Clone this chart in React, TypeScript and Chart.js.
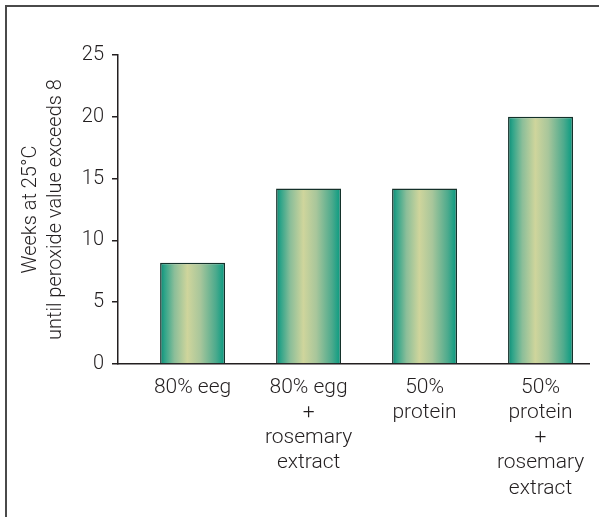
import React, { useEffect, useRef } from "react";
import { Chart, registerables } from "chart.js";

Chart.register(...registerables);

// Sample groups (x-axis labels, one line per array entry)
const categories: string[][] = [
  ["80% eeg"],
  ["80% egg", "+", "rosemary", "extract"],
  ["50%", "protein"],
  ["50%", "protein", "+", "rosemary", "extract"],
];

// Weeks at 25°C until the peroxide value exceeds 8
const weeks: number[] = [8.2, 14.2, 14.2, 20.0];

const yTicks: number[] = [0, 5, 10, 15, 20, 25];
const yTitle: string[] = ["Weeks at 25°C", "until peroxide value exceeds 8"];

const FONT = "Roboto, 'Liberation Sans', Arial, sans-serif";
const INK = "#231f20";

// Cylinder-like horizontal shading for each bar
const barShading = {
  id: "barShading",
  beforeDatasetsDraw(chart: Chart) {
    const ctx = chart.ctx;
    const meta = chart.getDatasetMeta(0);
    meta.data.forEach((bar: any) => {
      const { x, width } = bar.getProps(["x", "width"], true);
      const g = ctx.createLinearGradient(x - width / 2, 0, x + width / 2, 0);
      g.addColorStop(0, "#0a8a74");
      g.addColorStop(0.07, "#2ea489");
      g.addColorStop(0.22, "#8bbe99");
      g.addColorStop(0.42, "#cfd59c");
      g.addColorStop(0.62, "#a8c69b");
      g.addColorStop(0.86, "#4caa8d");
      g.addColorStop(1, "#039a80");
      bar.options = { ...bar.options, backgroundColor: g };
    });
  },
};

// Thin frame along the top and left edges of the figure
const frame = {
  id: "frame",
  beforeDraw(chart: Chart) {
    const ctx = chart.ctx;
    ctx.save();
    ctx.strokeStyle = "#4a4a4a";
    ctx.lineWidth = 2;
    ctx.beginPath();
    ctx.moveTo(6, chart.height);
    ctx.lineTo(6, 6);
    ctx.lineTo(chart.width, 6);
    ctx.stroke();
    ctx.restore();
  },
};

export default function App() {
  const canvasRef = useRef<HTMLCanvasElement | null>(null);

  useEffect(() => {
    document.body.style.margin = "0";
    const canvas = canvasRef.current;
    if (!canvas) return;

    const chart = new Chart(canvas, {
      type: "bar",
      data: {
        datasets: [
          {
            data: weeks.map((v, i) => ({ x: i, y: v })),
            backgroundColor: "#7fb899",
            borderColor: "#14312a",
            borderWidth: 1.5,
            borderSkipped: "bottom",
            barPercentage: 0.56,
            categoryPercentage: 1,
          },
        ],
      },
      options: {
        animation: false,
        responsive: false,
        maintainAspectRatio: false,
        devicePixelRatio: 1,
        layout: { padding: { top: 55, right: 10, bottom: 0, left: 0 } },
        plugins: {
          legend: { display: false },
          tooltip: { enabled: false },
        },
        scales: {
          x: {
            type: "linear",
            offset: false,
            min: -0.643,
            max: 3.418,
            afterBuildTicks: (scale: any) => {
              scale.ticks = categories.map((_, i) => ({ value: i }));
            },
            afterFit: (scale: any) => {
              scale.height = 153;
            },
            grid: { display: false, drawTicks: false, offset: false },
            border: { display: true, color: INK, width: 1.5 },
            ticks: {
              padding: 11,
              maxRotation: 0,
              autoSkip: false,
              color: INK,
              font: { family: FONT, size: 21, weight: "300", lineHeight: 1.2 },
              callback: (v: any) => categories[Number(v)] ?? "",
            },
          },
          y: {
            min: 0,
            max: 25,
            afterBuildTicks: (scale: any) => {
              scale.ticks = yTicks.map((v) => ({ value: v }));
            },
            afterFit: (scale: any) => {
              scale.width = 118;
            },
            grid: {
              drawOnChartArea: false,
              drawTicks: true,
              tickLength: 6,
              tickColor: INK,
              lineWidth: 1.5,
            },
            border: { display: true, color: INK, width: 1.5 },
            ticks: {
              padding: 8,
              color: INK,
              font: { family: FONT, size: 20, weight: "300" },
            },
            title: {
              display: true,
              text: yTitle,
              color: INK,
              padding: { top: 18, bottom: 0 },
              font: { family: FONT, size: 20, weight: "300", lineHeight: 1.25 },
            },
          },
        },
      },
      plugins: [frame, barShading],
    });

    return () => chart.destroy();
  }, []);

  return (
    <div style={{ width: 599, height: 517, background: "#fff" }}>
      <canvas ref={canvasRef} width={599} height={517} style={{ display: "block" }} />
    </div>
  );
}
